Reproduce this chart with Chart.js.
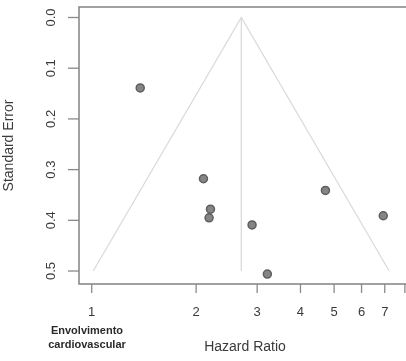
<!DOCTYPE html>
<html>
<head>
<meta charset="utf-8">
<script src="https://cdn.jsdelivr.net/npm/chart.js@4/dist/chart.umd.min.js"></script>
<style>
  html, body { margin: 0; padding: 0; background: #fff; overflow: hidden; width: 406px; height: 361px; }
  canvas { display: block; }
</style>
</head>
<body>
<canvas id="c" width="420" height="361"></canvas>
<script>
// Study estimates
const hazardRatio   = [1.38, 2.10, 2.20, 2.18, 2.90, 3.21, 4.72, 6.93];
const standardError = [0.139, 0.318, 0.378, 0.395, 0.409, 0.506, 0.341, 0.391];

// Funnel (pseudo confidence limits) and pooled estimate
const funnelHR = [1.01, 2.70, 7.21];
const funnelSE = [0.5, 0.0, 0.5];
const pooledHR = [2.70, 2.70];
const pooledSE = [0.0, 0.5];

// Axis ticks
const xTicks = [1, 2, 3, 4, 5, 6, 7, 8];
const xTickLabels = ['1', '2', '3', '4', '5', '6', '7', ''];
const yTicks = [0, 0.1, 0.2, 0.3, 0.4, 0.5];
const yTickLabels = ['0.0', '0.1', '0.2', '0.3', '0.4', '0.5'];

const xTitle = 'Hazard Ratio';
const yTitle = 'Standard Error';
const xNote = ['Envolvimento', 'cardiovascular'];

const pts = hazardRatio.map((v, i) => ({ x: v, y: standardError[i] }));
const funnel = funnelHR.map((v, i) => ({ x: v, y: funnelSE[i] }));
const pooled = pooledHR.map((v, i) => ({ x: v, y: pooledSE[i] }));

const FONT = '"Liberation Sans", Arial, sans-serif';

const axesPlugin = {
  id: 'rAxes',
  afterDraw(chart) {
    const ctx = chart.ctx;
    const a = chart.chartArea;
    const xs = chart.scales.x, ys = chart.scales.y;
    ctx.save();
    // box
    ctx.strokeStyle = '#8a8a8a';
    ctx.lineWidth = 1.6;
    ctx.strokeRect(a.left, a.top, a.right - a.left, a.bottom - a.top);
    // y ticks
    ctx.lineWidth = 1.3;
    ctx.fillStyle = '#3a3a3a';
    ctx.font = '13px ' + FONT;
    ctx.textAlign = 'center';
    ctx.textBaseline = 'middle';
    yTicks.forEach((t, i) => {
      const y = ys.getPixelForValue(t);
      ctx.beginPath();
      ctx.moveTo(a.left - 11, y);
      ctx.lineTo(a.left, y);
      ctx.stroke();
      ctx.save();
      ctx.translate(a.left - 28, y);
      ctx.rotate(-Math.PI / 2);
      ctx.fillText(yTickLabels[i], 0, 0);
      ctx.restore();
    });
    // x ticks
    xTicks.forEach((t, i) => {
      const x = xs.getPixelForValue(t);
      ctx.beginPath();
      ctx.moveTo(x, a.bottom);
      ctx.lineTo(x, a.bottom + 9);
      ctx.stroke();
      ctx.fillText(xTickLabels[i], x, a.bottom + 28);
    });
    // titles
    ctx.font = '14px ' + FONT;
    ctx.fillText(xTitle, 245, 347);
    ctx.save();
    ctx.translate(9, (a.top + a.bottom) / 2);
    ctx.rotate(-Math.PI / 2);
    ctx.fillText(yTitle, 0, 0);
    ctx.restore();
    // note under x = 1
    ctx.font = 'bold 11px ' + FONT;
    ctx.fillStyle = '#2a2a2a';
    ctx.fillText(xNote[0], 87, 331);
    ctx.fillText(xNote[1], 87, 345);
    ctx.restore();
  }
};

new Chart(document.getElementById('c'), {
  type: 'scatter',
  data: {
    datasets: [
      {
        data: pts,
        backgroundColor: '#858585',
        borderColor: '#5e5e5e',
        borderWidth: 1.5,
        pointRadius: 4,
        pointHoverRadius: 4
      },
      {
        data: funnel,
        showLine: true,
        borderColor: '#d9d9d9',
        borderWidth: 1.2,
        pointRadius: 0,
        fill: false
      },
      {
        data: pooled,
        showLine: true,
        borderColor: '#d9d9d9',
        borderWidth: 1.2,
        pointRadius: 0,
        fill: false
      }
    ]
  },
  options: {
    responsive: false,
    devicePixelRatio: 1,
    animation: false,
    layout: { padding: { left: 79, top: 7, right: 6, bottom: 77 } },
    plugins: { legend: { display: false }, tooltip: { enabled: false } },
    scales: {
      x: { type: 'logarithmic', min: 0.919, max: 8.5, display: false },
      y: { type: 'linear', min: -0.0207, max: 0.5256, reverse: true, display: false }
    }
  },
  plugins: [axesPlugin]
});
</script>
</body>
</html>
